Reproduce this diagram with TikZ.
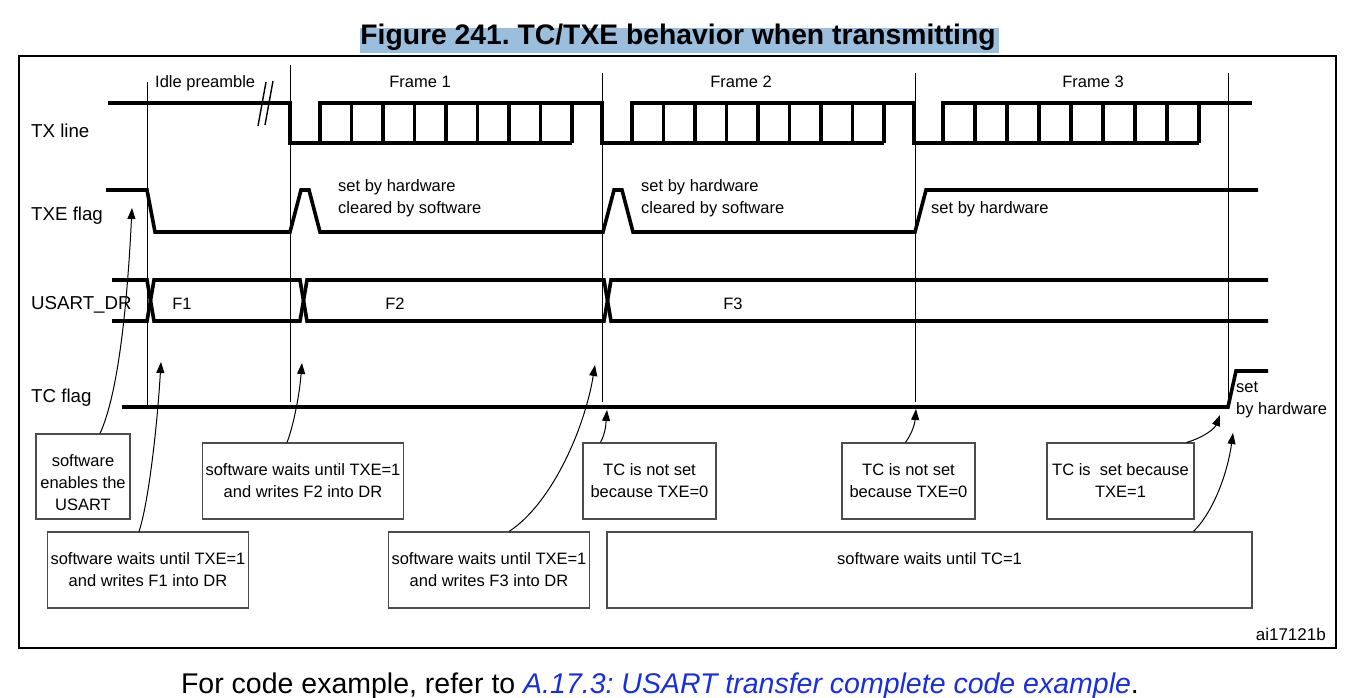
\documentclass[tikz,border=0pt]{standalone}
\usepackage{fontspec}
\setmainfont{Liberation Sans}
\usetikzlibrary{arrows.meta}
\definecolor{titleblue}{RGB}{155,190,220}
\definecolor{linkblue}{RGB}{25,45,225}
\newcommand{\boxfont}{\fontsize{16.5}{22}\selectfont}
\newcommand{\lblfont}{\fontsize{18.7}{22}\selectfont}
\newcommand{\titlefont}{\fontsize{28.3}{32}\selectfont\bfseries}
\newcommand{\capfont}{\fontsize{28.5}{32}\selectfont}
\frenchspacing

\begin{document}
\begin{tikzpicture}[x=1pt,y=-1pt,
    sig/.style={line width=3.6pt},
    guide/.style={line width=0.9pt},
    box/.style={draw=black!70, line width=1.1pt, align=center, inner sep=0pt, font=\boxfont},
    lbl/.style={font=\lblfont, anchor=base west, inner sep=0pt},
    note/.style={font=\boxfont, align=left, anchor=west, inner sep=0pt},
    arr/.style={line width=1pt, -{Triangle[length=11pt,width=8pt]}}]

    \useasboundingbox (0,0) rectangle (1353,698);

    % title and frame
    \fill[titleblue] (360,28) rectangle (999,53);
    \node[font=\titlefont, anchor=base] (title) at (678,45) {Figure 241. TC/TXE behavior when transmitting};
    \draw[line width=1.6pt] (19,56) rectangle (1336,648);
    \node[font=\capfont, anchor=base] (caption) at (660,693) {For code example, refer to \textcolor{linkblue}{\itshape A.17.3: USART transfer complete code example}.};
    \node[font=\fontsize{17}{20}\selectfont, anchor=base east, inner sep=0pt] (ref) at (1326,640) {ai17121b};

    % signal names
    \node[lbl] (txname)  at (31,138) {TX line};
    \node[lbl] (txename) at (31,220) {TXE flag};
    \node[lbl] (drname)  at (31,309) {USART\_DR};
    \node[lbl] (tcname)  at (31,402) {TC flag};

    \node[font=\boxfont, anchor=base west, inner sep=0pt] (idle) at (155,88) {Idle preamble};
    \node[font=\boxfont, anchor=base] (frame1) at (420,88) {Frame 1};
    \node[font=\boxfont, anchor=base] (frame2) at (741,88) {Frame 2};
    \node[font=\boxfont, anchor=base] (frame3) at (1093,88) {Frame 3};

    % time markers
    \draw[guide] (147,82) -- (147,407);
    \draw[guide] (290,65) -- (290,402);
    \draw[guide] (602,73) -- (602,402);
    \draw[guide] (915,73) -- (915,402);
    \draw[guide] (1228,73) -- (1228,407);

    % TX line
    \draw[sig] (108,103) -- (290,103) -- (290,143) -- (572,143);
    \draw[sig] (320,143) -- (320,103) -- (602,103) -- (602,143) -- (884,143);
    \draw[sig] (632,143) -- (632,103) -- (914,103) -- (914,143) -- (1199,143);
    \draw[sig] (943,143) -- (943,103) -- (1252,103);
    \draw[sig] (351.5,103) -- (351.5,143) (383,103) -- (383,143) (414.5,103) -- (414.5,143) (446,103) -- (446,143)
               (477.5,103) -- (477.5,143) (509,103) -- (509,143) (540.5,103) -- (540.5,143) (572,103) -- (572,143);
    \draw[sig] (663.5,103) -- (663.5,143) (695,103) -- (695,143) (726.5,103) -- (726.5,143) (758,103) -- (758,143)
               (789.5,103) -- (789.5,143) (821,103) -- (821,143) (852.5,103) -- (852.5,143) (884,103) -- (884,143);
    \draw[sig] (975,103) -- (975,143) (1007,103) -- (1007,143) (1039,103) -- (1039,143) (1071,103) -- (1071,143)
               (1103,103) -- (1103,143) (1135,103) -- (1135,143) (1167,103) -- (1167,143) (1199,103) -- (1199,143);
    \draw[line width=1.4pt] (258,126) -- (266,82);
    \draw[line width=1.4pt] (265,125) -- (273,81);

    % TXE flag
    \draw[sig] (106,190) -- (147,190) -- (155,232) -- (290,232) -- (301,190) -- (309,190) -- (320,232) -- (603,232)
               -- (614,190) -- (622,190) -- (633,232) -- (915,232) -- (926,190) -- (1258,190);
    \node[note] (txenote1) at (338,198) {set by hardware\\cleared by software};
    \node[note] (txenote2) at (641,198) {set by hardware\\cleared by software};
    \node[font=\boxfont, anchor=base west, inner sep=0pt] (txenote3) at (931,213) {set by hardware};

    % USART_DR
    \draw[sig] (112,280) -- (147,280) -- (154,321) -- (300,321) -- (307,280) -- (604,280) -- (611,321) -- (1268,321);
    \draw[sig] (112,321) -- (147,321) -- (154,280) -- (300,280) -- (307,321) -- (604,321) -- (611,280) -- (1268,280);
    \node[font=\boxfont] (f1) at (182,304) {F1};
    \node[font=\boxfont] (f2) at (395,304) {F2};
    \node[font=\boxfont] (f3) at (733,304) {F3};

    % TC flag
    \draw[sig] (122,407) -- (1228,407) -- (1236,371) -- (1268,371);
    \node[note] (tcnote) at (1236,400) {set\\by hardware};

    % software / hardware events
    \node[box, minimum width=94, minimum height=85] (enable) at (83,476.5) {\rule{0pt}{24pt}software\\enables the\\USART};
    \node[box, minimum width=201, minimum height=76] (wrf1) at (148,570) {software waits until TXE=1\\and writes F1 into DR};
    \node[box, minimum width=201, minimum height=76] (wrf2) at (303,481) {software waits until TXE=1\\and writes F2 into DR};
    \node[box, minimum width=201, minimum height=76] (wrf3) at (489,570) {software waits until TXE=1\\and writes F3 into DR};
    \node[box, minimum width=133, minimum height=76] (nottc1) at (649.5,481) {TC is not set\\because TXE=0};
    \node[box, minimum width=133, minimum height=76] (nottc2) at (908.5,481) {TC is not set\\because TXE=0};
    \node[box, minimum width=147, minimum height=76] (settc) at (1120.5,481) {TC is \ set because\\TXE=1};
    \node[box, minimum width=645, minimum height=76] (waittc) at (929.5,570) {software waits until TC=1\\~};

    \coordinate (enpt)  at (132,208);
    \coordinate (f1pt)  at (161,362);
    \coordinate (f2pt)  at (302,363);
    \coordinate (f3pt)  at (595,365);
    \coordinate (tc1pt) at (607,410);
    \coordinate (tc2pt) at (916,409);
    \coordinate (tc3pt) at (1220,415);
    \coordinate (tc4pt) at (1233,433);

    \draw[arr] ([xshift=17pt]enable.north) .. controls (120,390) and (128,290) .. (enpt);
    \draw[arr] ([xshift=-9pt]wrf1.north) .. controls (148,505) and (157,430) .. (f1pt);
    \draw[arr] ([xshift=-16pt]wrf2.north) .. controls (292,430) and (299,400) .. (f2pt);
    \draw[arr] ([xshift=20pt]wrf3.north) .. controls (550,505) and (584,432) .. (f3pt);
    \draw[arr] ([xshift=-49pt]nottc1.north) .. controls (606,432) and (606,422) .. (tc1pt);
    \draw[arr] ([xshift=-3pt]nottc2.north) .. controls (913,432) and (915,422) .. (tc2pt);
    \draw[arr] ([xshift=66pt]settc.north) .. controls (1205,437) and (1215,428) .. (tc3pt);
    \draw[arr] ([xshift=264pt]waittc.north) .. controls (1215,510) and (1228,470) .. (tc4pt);

\end{tikzpicture}
\end{document}
